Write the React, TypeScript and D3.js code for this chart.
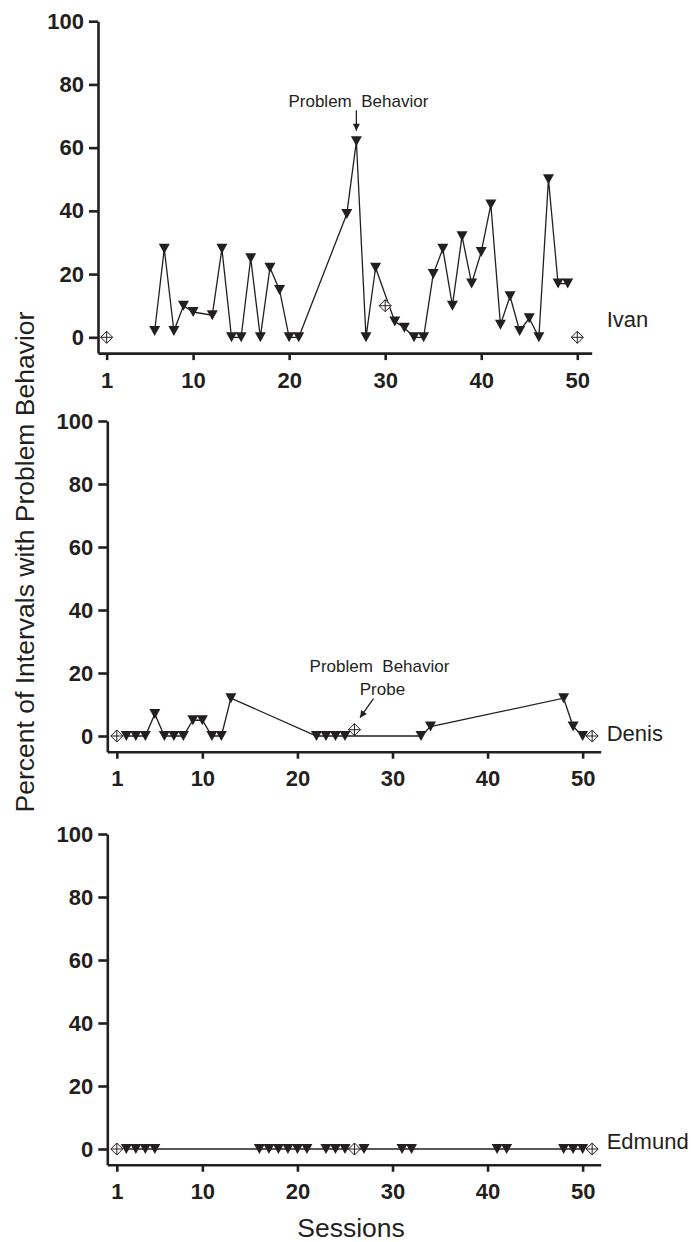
import { axisBottom, axisLeft, line, scaleLinear, select } from 'd3';
import React, { useEffect, useRef } from 'react';

const yTicks = [0, 20, 40, 60, 80, 100];
const xTicks = [1, 10, 20, 30, 40, 50];

// Ivan
const ivanSessions = [6, 7, 8, 9, 10, 12, 13, 14, 15, 16, 17, 18, 19, 20, 21, 26, 27, 28, 29, 31, 32, 33, 34, 35, 36, 37, 38, 39, 40, 41, 42, 43, 44, 45, 46, 47, 48, 49];
const ivanValues = [2, 28, 2, 10, 8, 7, 28, 0, 0, 25, 0, 22, 15, 0, 0, 39, 62, 0, 22, 5, 3, 0, 0, 20, 28, 10, 32, 17, 27, 42, 4, 13, 2, 6, 0, 50, 17, 17];
const ivanProbeSessions = [1, 30, 50];
const ivanProbeValues = [0, 10, 0];

// Denis
const denisSessions = [2, 3, 4, 5, 6, 7, 8, 9, 10, 11, 12, 13, 22, 23, 24, 25, 33, 34, 48, 49, 50];
const denisValues = [0, 0, 0, 7, 0, 0, 0, 5, 5, 0, 0, 12, 0, 0, 0, 0, 0, 3, 12, 3, 0];
const denisProbeSessions = [1, 26, 51];
const denisProbeValues = [0, 2, 0];

// Edmund
const edmundSessions = [2, 3, 4, 5, 16, 17, 18, 19, 20, 21, 23, 24, 25, 27, 31, 32, 41, 42, 48, 49, 50];
const edmundValues = [0, 0, 0, 0, 0, 0, 0, 0, 0, 0, 0, 0, 0, 0, 0, 0, 0, 0, 0, 0, 0];
const edmundProbeSessions = [1, 26, 51];
const edmundProbeValues = [0, 0, 0];

const ink = '#231f20';
const font = "'Liberation Sans', Arial, Helvetica, sans-serif";

// layout of each panel (x range of the axis, y of -5 and of 100)
const panels = [
  {
    name: 'Ivan', sessions: ivanSessions, values: ivanValues,
    probeSessions: ivanProbeSessions, probeValues: ivanProbeValues,
    xDomain: [0.1, 51.5], xRange: [98, 591.7], yRange: [353.1, 21.2], nameDy: -10.5,
  },
  {
    name: 'Denis', sessions: denisSessions, values: denisValues,
    probeSessions: denisProbeSessions, probeValues: denisProbeValues,
    xDomain: [0, 51.9], xRange: [107.3, 600.7], yRange: [751.75, 421], nameDy: 5,
  },
  {
    name: 'Edmund', sessions: edmundSessions, values: edmundValues,
    probeSessions: edmundProbeSessions, probeValues: edmundProbeValues,
    xDomain: [0, 51.9], xRange: [107.3, 600.7], yRange: [1164.75, 834], nameDy: 0,
  },
];

function App() {
  const svgRef = useRef<SVGSVGElement>(null);

  useEffect(() => {
    const svg = select(svgRef.current);
    svg.selectAll('.panel').remove();

    panels.forEach((p, pi) => {
      const g = svg.append('g').attr('class', 'panel');
      const x = scaleLinear().domain(p.xDomain).range(p.xRange);
      const y = scaleLinear().domain([-5, 100]).range(p.yRange);

      const yAxis = g.append('g').attr('transform', `translate(${p.xRange[0]},0)`)
        .call(axisLeft(y).tickValues(yTicks).tickSize(9).tickSizeOuter(0).tickPadding(5));
      const xAxis = g.append('g').attr('transform', `translate(0,${p.yRange[0]})`)
        .call(axisBottom(x).tickValues(xTicks).tickSize(7).tickSizeOuter(0).tickPadding(12));

      [yAxis, xAxis].forEach(ax => {
        ax.selectAll('.domain, .tick line').attr('stroke', ink).attr('stroke-width', 2.6);
        ax.selectAll('.tick text')
          .attr('font-family', font)
          .attr('font-weight', 'bold')
          .attr('font-size', 22)
          .attr('fill', ink);
      });

      const lineGen = line<number>()
        .x((d, i) => x(p.sessions[i]))
        .y(d => y(d));

      g.append('path')
        .attr('d', lineGen(p.values))
        .attr('fill', 'none')
        .attr('stroke', ink)
        .attr('stroke-width', 1.3);

      g.selectAll('.tri')
        .data(p.values)
        .join('path')
        .attr('class', 'tri')
        .attr('d', 'M-5.5,-5L5.5,-5L0,5Z')
        .attr('transform', (d, i) => `translate(${x(p.sessions[i])},${y(d)})`)
        .attr('fill', ink);

      const probes = g.selectAll('.probe')
        .data(p.probeValues)
        .join('g')
        .attr('class', 'probe')
        .attr('transform', (d, i) => `translate(${x(p.probeSessions[i])},${y(d)})`);
      probes.append('path')
        .attr('d', 'M0,-6L6,0L0,6L-6,0Z')
        .attr('fill', '#fff')
        .attr('stroke', ink)
        .attr('stroke-width', 1);
      probes.append('path')
        .attr('d', 'M-6,0H6M0,-6V6')
        .attr('stroke', ink)
        .attr('stroke-width', 1);

      g.append('text')
        .attr('x', 606.7)
        .attr('y', y(0) + p.nameDy)
        .attr('font-family', font)
        .attr('font-size', 22)
        .attr('fill', ink)
        .text(p.name);

      // annotations
      if (pi === 0) {
        const ax = x(27);
        const ay = y(62);
        g.append('text')
          .attr('x', ax + 2)
          .attr('y', ay - 34)
          .attr('text-anchor', 'middle')
          .attr('font-family', font)
          .attr('font-size', 17)
          .attr('fill', ink)
          .style('white-space', 'pre')
          .text('Problem  Behavior');
        g.append('line')
          .attr('x1', ax).attr('y1', ay - 31)
          .attr('x2', ax).attr('y2', ay - 10.5)
          .attr('stroke', ink)
          .attr('stroke-width', 1.3)
          .attr('marker-end', 'url(#arrowHead)');
      }
      if (pi === 1) {
        const ax = x(26);
        const ay = y(2);
        const t = g.append('text')
          .attr('text-anchor', 'middle')
          .attr('font-family', font)
          .attr('font-size', 17)
          .attr('fill', ink)
          .style('white-space', 'pre');
        t.append('tspan').attr('x', ax + 25).attr('y', ay - 58).text('Problem  Behavior');
        t.append('tspan').attr('x', ax + 28).attr('y', ay - 34.7).text('Probe');
        g.append('line')
          .attr('x1', ax + 19).attr('y1', ay - 31)
          .attr('x2', ax + 5.5).attr('y2', ay - 12)
          .attr('stroke', ink)
          .attr('stroke-width', 1.3)
          .attr('marker-end', 'url(#arrowHead)');
      }
    });
  }, []);

  return (
    <svg
      ref={svgRef}
      width={691}
      height={1242}
      style={{ position: 'absolute', left: 0, top: 0, background: '#fff' }}
    >
      <defs>
        <marker
          id="arrowHead"
          viewBox="0 0 10 10"
          refX={10}
          refY={5}
          markerUnits="userSpaceOnUse"
          markerWidth={9}
          markerHeight={7}
          orient="auto"
        >
          <path d="M0,0L10,5L0,10Z" fill={ink} />
        </marker>
      </defs>
      <text
        transform="translate(33.5,562) rotate(-90)"
        textAnchor="middle"
        fontFamily={font}
        fontSize={26.5}
        fill={ink}
      >
        Percent of Intervals with Problem Behavior
      </text>
      <text x={351} y={1237} textAnchor="middle" fontFamily={font} fontSize={26.5} fill={ink}>
        Sessions
      </text>
    </svg>
  );
}

export default App;
